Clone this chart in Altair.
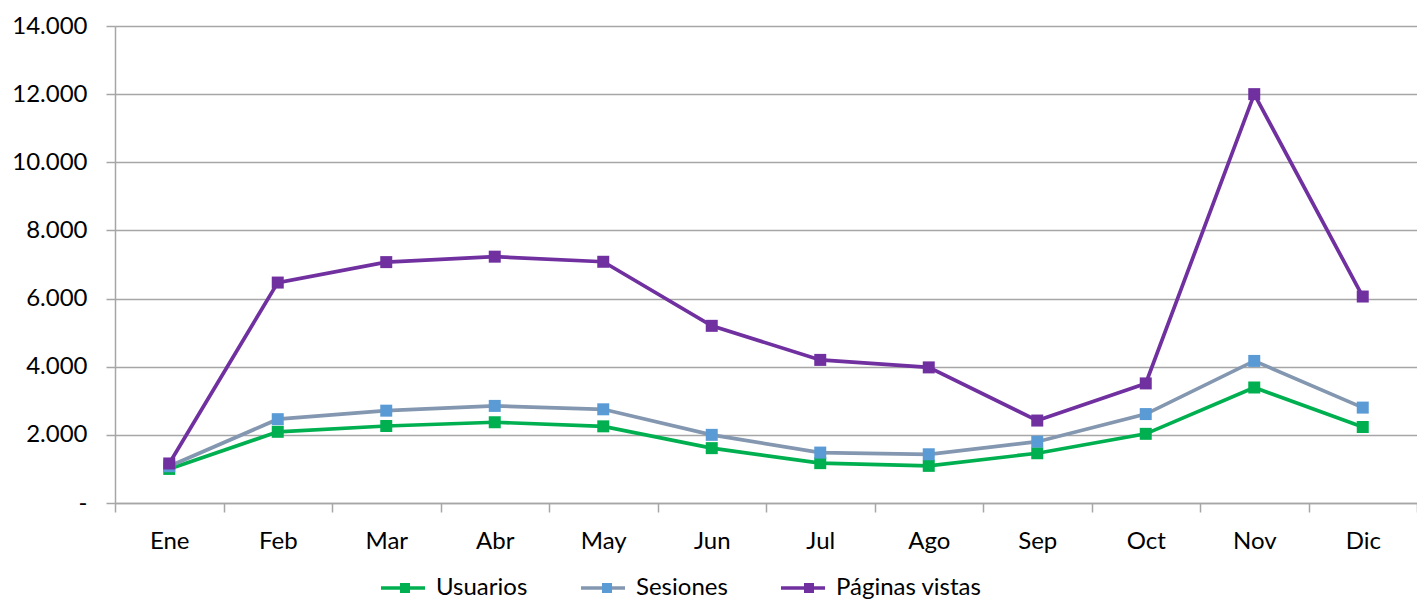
import altair as alt
import pandas as pd

months = ["Ene", "Feb", "Mar", "Abr", "May", "Jun", "Jul", "Ago", "Sep", "Oct", "Nov", "Dic"]
usuarios = [1000, 2090, 2260, 2370, 2250, 1610, 1170, 1090, 1460, 2030, 3390, 2230]
sesiones = [1080, 2460, 2710, 2850, 2750, 2000, 1480, 1430, 1800, 2610, 4170, 2800]
paginas = [1160, 6470, 7070, 7230, 7080, 5200, 4200, 3980, 2420, 3510, 12000, 6060]
series = ["Usuarios", "Sesiones", "Páginas vistas"]
line_colors = ["#00b050", "#8497b0", "#7030a0"]
marker_colors = ["#00b050", "#5b9bd5", "#7030a0"]
y_ticks = [0, 2000, 4000, 6000, 8000, 10000, 12000, 14000]

marker_keys = [s + "|m" for s in series]

rows = []
for name, key, vals in zip(series, marker_keys, [usuarios, sesiones, paginas]):
    for m, v in zip(months, vals):
        rows.append({"Mes": m, "Valor": v, "Serie": name, "Marcador": key, "orden": series.index(name)})
df = pd.DataFrame(rows)

FONT = "Lato"
GRID = "#a6a6a6"

base = alt.Chart(df).encode(
    x=alt.X(
        "Mes:N",
        sort=months,
        title=None,
        axis=alt.Axis(
            labelAngle=0,
            labelFontSize=24,
            labelFont=FONT,
            labelColor="#000000",
            labelPadding=17,
            tickBand="extent",
            tickSize=9,
            tickColor=GRID,
            tickWidth=1.5,
            domainColor=GRID,
            domainWidth=1.5,
            grid=False,
        ),
    ),
    y=alt.Y(
        "Valor:Q",
        title=None,
        scale=alt.Scale(domain=[0, 14000], nice=False),
        axis=alt.Axis(
            values=y_ticks,
            labelExpr="datum.value == 0 ? '-' : replace(format(datum.value, ',.0f'), ',', '.')",
            labelFontSize=24,
            labelFont=FONT,
            labelColor="#000000",
            labelPadding=19,
            tickSize=9,
            tickColor=GRID,
            tickWidth=1.5,
            domainColor=GRID,
            domainWidth=1.5,
            grid=True,
            gridColor=GRID,
            gridWidth=1.5,
        ),
    ),
)

LEG_X = 276
LEG_Y = 550

common = dict(
    orient="none",
    legendY=LEG_Y,
    direction="horizontal",
    title=None,
    labelFontSize=24,
    labelFont=FONT,
    labelColor="#000000",
    symbolSize=100,
    labelOffset=21,
    gridAlign="none",
)

line_legend = alt.Legend(
    legendX=LEG_X,
    symbolType="M-4.4,0L4.4,0",
    symbolStrokeWidth=3.7,
    columnPadding=45,
    zindex=1,
    **common,
)

marker_legend = alt.Legend(
    legendX=LEG_X + 2,
    symbolType="M-1,-1L1,-1L1,1L-1,1Z",
    symbolStrokeWidth=0,
    symbolOpacity=1,
    labelExpr="''",
    columnPadding=157,
    zindex=2,
    **common,
)

lines = base.mark_line(strokeWidth=3.7).encode(
    stroke=alt.Stroke("Serie:N", scale=alt.Scale(domain=series, range=line_colors), legend=line_legend),
    order=alt.Order("orden:Q"),
)

points = base.mark_point(filled=True, shape="square", size=144, opacity=1).encode(
    fill=alt.Fill("Marcador:N", scale=alt.Scale(domain=marker_keys, range=marker_colors), legend=marker_legend),
)

chart = (
    alt.layer(lines, points)
    .properties(
        width=1302,
        height=477,
        autosize=alt.AutoSizeParams(type="none"),
        padding={"left": 107, "top": 18, "right": 0, "bottom": 100},
    )
    .configure_view(stroke=None)
)

chart.save("out.html", embed_options={"renderer": "svg", "actions": False})
